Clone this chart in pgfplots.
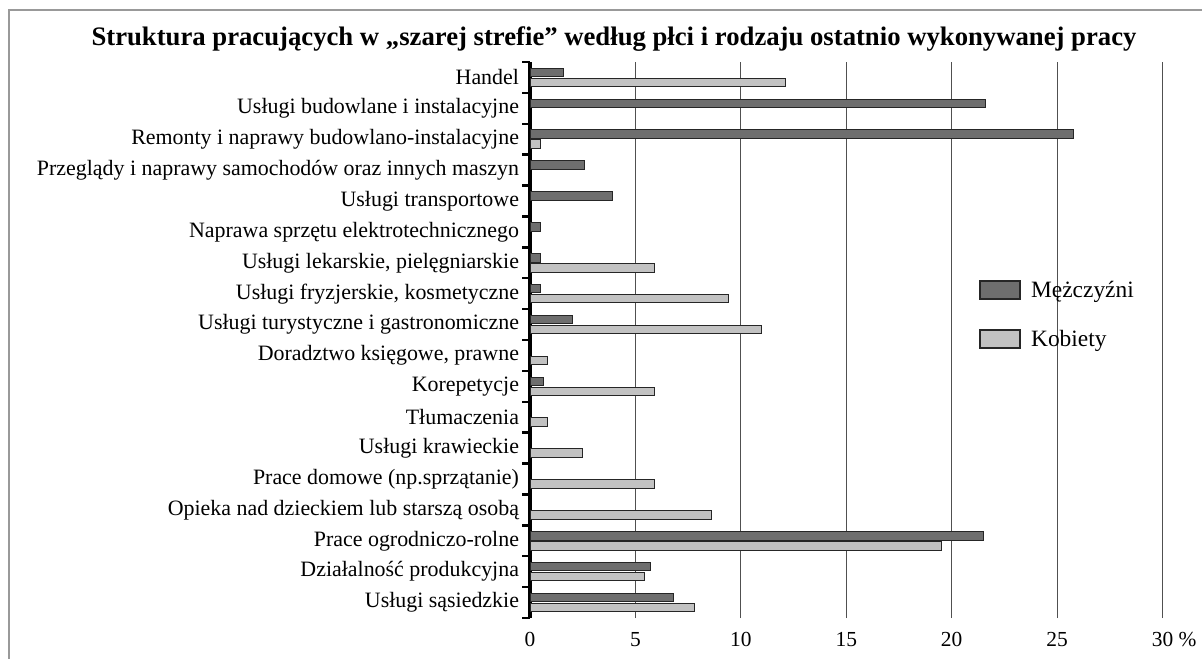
\documentclass[border=0pt]{standalone}
\usepackage{pgfplots}
\pgfplotsset{compat=1.18}
\usepackage{fontspec}
\setmainfont{Liberation Serif}
\definecolor{mcol}{HTML}{6E6E6E}
\definecolor{kcol}{HTML}{C2C2C2}
\definecolor{gridc}{HTML}{505050}
\definecolor{framec}{HTML}{999999}
\begin{document}
\begin{tikzpicture}[x=1bp,y=1bp]
\useasboundingbox (0,0) rectangle (1202,-659);
\draw[framec, line width=2bp] (9,-659) -- (9,-10) -- (1202,-10);
\node[font=\fontsize{26.8}{30}\selectfont\bfseries] at (614,-39) {Struktura pracujących w „szarej strefie” według płci i rodzaju ostatnio wykonywanej pracy};
\begin{axis}[
  at={(530bp,-618bp)}, anchor=south west,
  scale only axis, width=632.5bp, height=556bp,
  xmin=0, xmax=30, ymin=-0.5, ymax=17.5,
  xbar=1.5bp, bar width=8.5bp,
  axis y line*=left, axis x line*=bottom,
  x axis line style={draw=none},
  y axis line style={line width=3.5bp, black},
  tick align=outside,
  xtick={0,5,...,30},
  xticklabels={0,5,10,15,20,25,{30\rlap{ \%}}},
  major x tick style={draw=none},
  xticklabel style={font=\fontsize{21.5}{24}\selectfont, yshift=-11bp},
  xmajorgrids, grid style={gridc, line width=1.1bp},
  ytick={0,...,17},
  yticklabels={Usługi sąsiedzkie, Działalność produkcyjna, Prace ogrodniczo-rolne, Opieka nad dzieckiem lub starszą osobą, Prace domowe (np.sprzątanie), Usługi krawieckie, Tłumaczenia, Korepetycje, {Doradztwo księgowe, prawne}, Usługi turystyczne i gastronomiczne, {Usługi fryzjerskie, kosmetyczne}, {Usługi lekarskie, pielęgniarskie}, Naprawa sprzętu elektrotechnicznego, Usługi transportowe, Przeglądy i naprawy samochodów oraz innych maszyn, Remonty i naprawy budowlano-instalacyjne, Usługi budowlane i instalacyjne, Handel},
  major tick length=0pt,
  major y tick style={draw=none},
  yticklabel style={font=\fontsize{22}{24}\selectfont, xshift=-7.5bp},
  minor ytick={-0.5,0.5,...,17.5},
  minor tick length=8bp,
  minor y tick style={black, line width=2.5bp},
  legend style={at={(0.705,0.614)}, anchor=north west, draw=none, fill=none,
    font=\fontsize{23.5}{26}\selectfont, row sep=28bp,
    /tikz/every even column/.append style={column sep=0bp}},
  legend cell align=left,
  reverse legend,
  legend image code/.code={\draw[#1, line width=2bp] (0bp,-9bp) rectangle (40bp,9bp);},
  legend style={nodes={inner xsep=10bp}},
]
\addplot[fill=kcol, draw=black!85, line width=1bp] coordinates {
 (7.8,0) (5.45,1) (19.5,2) (8.6,3) (5.9,4) (2.5,5) (0.85,6) (5.9,7) (0.85,8)
 (11.0,9) (9.4,10) (5.9,11) (0.5,15) (12.1,17)};
\addlegendentry{Kobiety}
\addplot[fill=mcol, draw=black!85, line width=1bp] coordinates {
 (6.8,0) (5.7,1) (21.5,2) (0.65,7) (2.0,9) (0.5,10) (0.5,11) (0.5,12)
 (3.9,13) (2.6,14) (25.8,15) (21.6,16) (1.6,17)};
\addlegendentry{Mężczyźni}
\end{axis}
\end{tikzpicture}
\end{document}
